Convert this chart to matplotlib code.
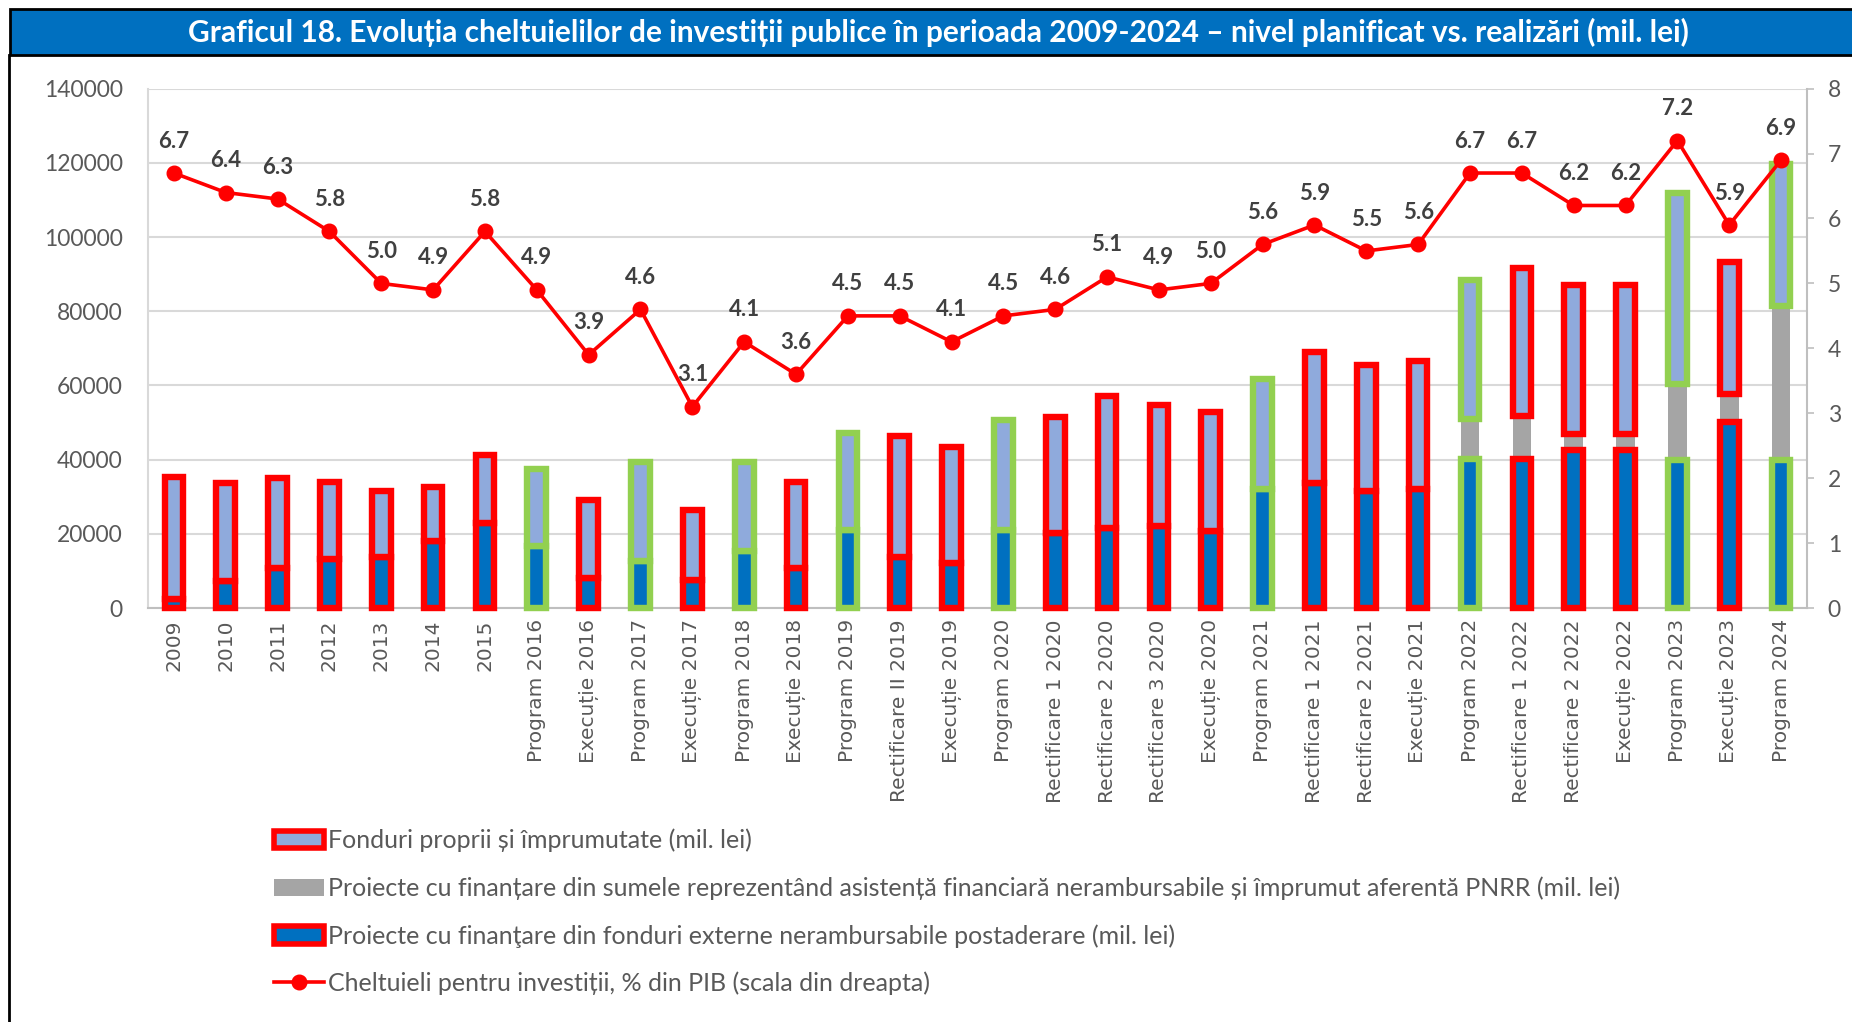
import matplotlib
matplotlib.use("Agg")
import matplotlib.pyplot as plt
import numpy as np
from matplotlib.patches import Patch, Rectangle
from matplotlib.lines import Line2D

# categories and values (mil. lei, % PIB)
categories = ["2009", "2010", "2011", "2012", "2013", "2014", "2015",
              "Program 2016", "Execuție 2016", "Program 2017", "Execuție 2017",
              "Program 2018", "Execuție 2018", "Program 2019", "Rectificare II 2019",
              "Execuție 2019", "Program 2020", "Rectificare 1 2020", "Rectificare 2 2020",
              "Rectificare 3 2020", "Execuție 2020", "Program 2021", "Rectificare 1 2021",
              "Rectificare 2 2021", "Execuție 2021", "Program 2022", "Rectificare 1 2022",
              "Rectificare 2 2022", "Execuție 2022", "Program 2023", "Execuție 2023",
              "Program 2024"]

fonduri_externe = [2500, 7200, 10800, 13300, 13900, 18100, 23000, 16800, 8200, 12800,
                   7700, 15300, 10900, 21000, 13900, 12200, 21000, 20300, 21700, 22200,
                   20900, 32200, 33800, 31500, 32200, 40100, 40200, 42700, 42700, 40000,
                   50100, 40000]

pnrr = [0, 0, 0, 0, 0, 0, 0, 0, 0, 0, 0, 0, 0, 0, 0, 0, 0, 0, 0, 0, 0, 0, 0, 0, 0,
        10800, 11600, 4200, 4200, 20500, 7700, 41500]

fonduri_proprii = [32900, 26600, 24200, 20700, 17600, 14400, 18300, 20700, 21000, 26500,
                   18800, 24000, 23200, 26100, 32400, 31200, 29600, 31100, 35400, 32500,
                   31900, 29600, 35200, 34000, 34400, 37500, 39800, 40100, 40100, 51400,
                   35500, 38300]

pib_pct = [6.7, 6.4, 6.3, 5.8, 5.0, 4.9, 5.8, 4.9, 3.9, 4.6, 3.1, 4.1, 3.6, 4.5, 4.5,
           4.1, 4.5, 4.6, 5.1, 4.9, 5.0, 5.6, 5.9, 5.5, 5.6, 6.7, 6.7, 6.2, 6.2, 7.2,
           5.9, 6.9]

C_OWN = "#8FAADC"
C_EXT = "#0070C0"
C_PNRR = "#A5A5A5"
C_RED = "#FF0000"
C_GREEN = "#92D050"
C_TXT = "#595959"

fig = plt.figure(figsize=(18.52, 10.22), dpi=100)

# title band
fig.patches.append(Rectangle((0.0055, 0.946), 1.0, 0.045, transform=fig.transFigure,
                             facecolor="#0070C0", edgecolor="black", linewidth=2.0))
fig.lines.append(Line2D([0.0048, 0.0048], [0.0, 0.946], transform=fig.transFigure,
                        color="black", linewidth=2.0))
fig.text(0.5065, 0.968, "Graficul 18. Evoluția cheltuielilor de investiții publice în perioada "
         "2009-2024 – nivel planificat vs. realizări (mil. lei)",
         ha="center", va="center", color="white", fontsize=21.5, fontweight="bold",
         family="Lato")

ax = fig.add_axes([0.0799, 0.405, 0.8958, 0.5083])
x = np.arange(len(categories))
w = 0.36
edges = [C_GREEN if c.startswith("Program") else C_RED for c in categories]

ext = np.array(fonduri_externe)
gr = np.array(pnrr)
own = np.array(fonduri_proprii)

ax.bar(x, ext, w, color=C_EXT, edgecolor=edges, linewidth=4.6, zorder=3, clip_on=False)
ax.bar(x, gr, w, bottom=ext, color=C_PNRR, linewidth=0, zorder=2)
ax.bar(x, own, w, bottom=ext + gr, color=C_OWN, edgecolor=edges, linewidth=4.6, zorder=3)

ax.set_xlim(-0.5, len(categories) - 0.5)
ax.set_ylim(0, 140000)
ax.set_yticks(np.arange(0, 140001, 20000))
ax.grid(axis="y", color="#D9D9D9", linewidth=1.5, zorder=0)
ax.set_axisbelow(True)
for s in ["top", "right"]:
    ax.spines[s].set_visible(False)
ax.spines["left"].set_color("#D9D9D9")
ax.spines["bottom"].set_color("#BFBFBF")
ax.spines["left"].set_linewidth(1.5)
ax.spines["bottom"].set_linewidth(1.5)
ax.set_xticks(x)
ax.set_xticklabels(categories, rotation=90, fontsize=14.5, color=C_TXT, family="DejaVu Sans")
ax.tick_params(axis="x", length=0, pad=8)
ax.tick_params(axis="y", length=0, pad=18, labelsize=16.5, labelcolor=C_TXT)
for lab in ax.get_yticklabels():
    lab.set_family("Lato")

ax2 = ax.twinx()
ax2.set_ylim(0, 8)
ax2.set_yticks(range(0, 9))
ax2.plot(x, pib_pct, color=C_RED, linewidth=2.6, marker="o", markersize=10.5, zorder=5)
for xi, v in zip(x, pib_pct):
    ax2.annotate(f"{v:.1f}", (xi, v), xytext=(0, 23), textcoords="offset points",
                 ha="center", va="center", fontsize=16, fontweight="bold",
                 color="#404040", family="Lato")
for s in ["top", "left", "bottom"]:
    ax2.spines[s].set_visible(False)
ax2.spines["right"].set_color("#BFBFBF")
ax2.spines["right"].set_linewidth(1.5)
ax2.tick_params(axis="y", length=5, width=1.2, color="#BFBFBF", pad=10,
                labelsize=16.5, labelcolor=C_TXT)
for lab in ax2.get_yticklabels():
    lab.set_family("Lato")

handles = [
    Patch(facecolor=C_OWN, edgecolor=C_RED, linewidth=4),
    Patch(facecolor=C_PNRR, edgecolor="none"),
    Patch(facecolor=C_EXT, edgecolor=C_RED, linewidth=4),
    Line2D([0], [0], color=C_RED, linewidth=2.6, marker="o", markersize=10.5),
]
labels = [
    "Fonduri proprii și împrumutate (mil. lei)",
    "Proiecte cu finanțare din sumele reprezentând asistență financiară nerambursabile și împrumut aferentă PNRR (mil. lei)",
    "Proiecte cu finanţare din fonduri externe nerambursabile postaderare (mil. lei)",
    "Cheltuieli pentru investiții, % din PIB (scala din dreapta)",
]
leg = fig.legend(handles, labels, loc="upper left", bbox_to_anchor=(0.136, 0.211),
                 frameon=False, handlelength=2.0, handleheight=0.7,
                 handletextpad=0.15, labelspacing=0.96, prop={"family": "Lato", "size": 18})
for t in leg.get_texts():
    t.set_color(C_TXT)

fig.savefig("out.png", dpi=100)
plt.close(fig)
